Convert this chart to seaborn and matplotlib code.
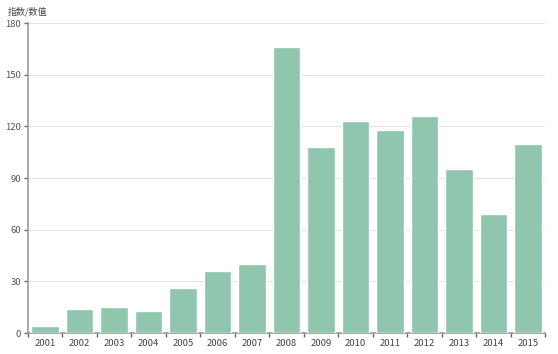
import seaborn as sns
import matplotlib.pyplot as plt
import pandas as pd
import numpy as np

# Daten
years = ["2001", "2002", "2003", "2004", "2005", "2006", "2007", "2008",
         "2009", "2010", "2011", "2012", "2013", "2014", "2015"]
values = [4, 14, 15, 13, 26, 36, 40, 166, 108, 123, 118, 126, 95, 69, 110]
y_ticks = [0, 30, 60, 90, 120, 150, 180]

df = pd.DataFrame({"year": years, "value": values})

sns.set_style("white")
plt.rcParams['font.family'] = ['Noto Sans CJK SC', 'DejaVu Sans']

fig = plt.figure(figsize=(5.58, 3.54), dpi=100)
ax = fig.add_axes([0.050, 0.059, 0.927, 0.876])

sns.barplot(data=df, x="year", y="value", color="#8fc6ad", saturation=1,
            width=0.8, ax=ax, zorder=3)

ax.set_ylim(0, 180)
ax.set_xlim(-0.5, len(years) - 0.5)
ax.set_yticks(y_ticks)
ax.yaxis.grid(True, color="#e3e3e3", linewidth=0.8, zorder=0)
ax.set_axisbelow(True)
ax.set_xlabel("")
ax.set_ylabel("")

for s in ["top", "right"]:
    ax.spines[s].set_visible(False)
for s in ["left", "bottom"]:
    ax.spines[s].set_color("#999999")
    ax.spines[s].set_linewidth(1.2)

# Ticks an den Kategoriegrenzen
ax.set_xticks(np.arange(-0.5, len(years), 1), minor=True)
ax.tick_params(axis="x", which="major", length=0, labelsize=6.8,
               labelcolor="#444444", pad=4)
ax.tick_params(axis="x", which="minor", direction="out", length=3,
               width=1, color="#666666", bottom=True)
ax.tick_params(axis="y", direction="out", length=3, width=1, left=True,
               color="#666666", labelsize=6.8, labelcolor="#555555", pad=2)

fig.text(0.014, 0.968, "指数/数值", fontsize=6.5, color="#444444",
         ha="left", va="center")

fig.savefig("out.png", dpi=100)
